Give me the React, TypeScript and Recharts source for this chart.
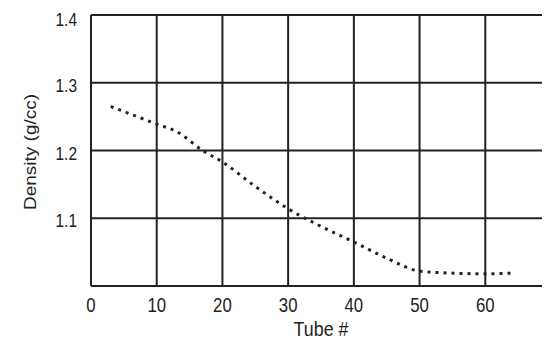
import React from 'react';
import { LineChart, Line, XAxis, YAxis, CartesianGrid } from 'recharts';

const tubes = [3, 10, 13, 17, 20, 25, 30, 35, 40, 45, 50, 55, 60, 64];
const densities = [1.265, 1.239, 1.228, 1.2, 1.183, 1.147, 1.114, 1.088, 1.065, 1.041, 1.022, 1.019, 1.018, 1.019];
const xTicks = [0, 10, 20, 30, 40, 50, 60];
const yTicks = [1.1, 1.2, 1.3, 1.4];

const data = tubes.map((t, i) => ({ tube: t, density: densities[i] }));

const FONT = "'Liberation Sans', Arial, sans-serif";
const INK = '#222';
const SX = 0.84;
const FS = 20;

const XTick = (props: any) => {
  const { x, y, payload } = props;
  return (
    <text
      transform={`translate(${x},${y}) scale(${SX},1)`}
      x={0}
      y={0}
      dy="0.71em"
      textAnchor="middle"
      fill={INK}
      fontSize={FS}
      fontFamily={FONT}
    >
      {String(payload.value)}
    </text>
  );
};

const YTick = (props: any) => {
  const { x, y, payload } = props;
  return (
    <text
      transform={`translate(${x},${y}) scale(0.86,1)`}
      x={0}
      y={0}
      dy="0.5em"
      textAnchor="end"
      fill={INK}
      fontSize={18}
      fontFamily={FONT}
    >
      {Number(payload.value).toFixed(1)}
    </text>
  );
};

export default function App() {
  return (
    <div style={{ width: 542, height: 331, overflow: 'hidden' }}>
      <LineChart
        width={560}
        height={331}
        data={data}
        margin={{ top: 7, right: 17, bottom: 0, left: 0 }}
        style={{ fontFamily: FONT, overflow: 'visible' }}
      >
        <CartesianGrid stroke={INK} strokeWidth={2} />
        <XAxis
          dataKey="tube"
          type="number"
          domain={[0, 70]}
          ticks={xTicks}
          height={53}
          tickLine={false}
          tickMargin={6}
          axisLine={{ stroke: INK, strokeWidth: 2 }}
          tick={<XTick />}
          label={{
            content: (props: any) => {
              const vb = props.viewBox;
              const cx = vb.x + vb.width / 2;
              const cy = vb.y + 50;
              return (
                <text
                  transform={`translate(${cx},${cy}) scale(0.85,1)`}
                  x={0}
                  y={0}
                  textAnchor="middle"
                  fill={INK}
                  fontSize={21}
                  fontFamily={FONT}
                >
                  Tube #
                </text>
              );
            },
          }}
        />
        <YAxis
          type="number"
          domain={[1.0, 1.4]}
          ticks={yTicks}
          width={83}
          tickLine={false}
          tickMargin={8}
          allowDataOverflow
          axisLine={{ stroke: INK, strokeWidth: 2 }}
          tick={<YTick />}
          label={{
            content: (props: any) => {
              const vb = props.viewBox;
              const cx = vb.x + 28;
              const cy = vb.y + vb.height / 2 + 1.5;
              return (
                <text
                  transform={`translate(${cx},${cy}) rotate(-90) scale(1,0.9)`}
                  x={0}
                  y={0}
                  textAnchor="middle"
                  fill={INK}
                  fontSize={19}
                  fontFamily={FONT}
                >
                  Density (g/cc)
                </text>
              );
            },
          }}
        />
        <Line
          type="monotone"
          dataKey="density"
          stroke={INK}
          strokeWidth={3}
          strokeDasharray="3 5"
          dot={false}
          isAnimationActive={false}
        />
      </LineChart>
    </div>
  );
}
